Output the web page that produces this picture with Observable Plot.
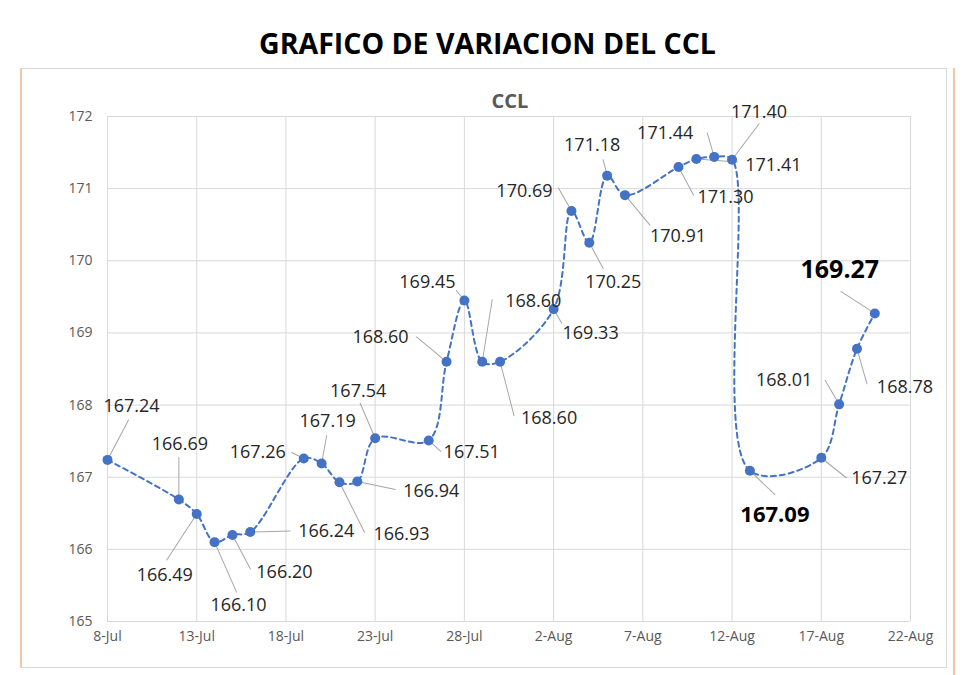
<!DOCTYPE html>
<html><head><meta charset="utf-8">
<script src="https://cdn.jsdelivr.net/npm/d3@7"></script>
<script src="https://cdn.jsdelivr.net/npm/@observablehq/plot@0.6"></script>
<style>
body{margin:0;background:#fff;width:980px;height:675px;position:relative;overflow:hidden;font-family:"Open Sans",sans-serif}
#title{position:absolute;top:24px;left:0;width:975px;text-align:center;font-weight:700;font-size:28.5px;color:#000}
#frame{position:absolute;left:20px;top:68px;width:927px;height:600px;border:1px solid #d9d9d9;border-left:2px solid #f5c6a5;box-sizing:border-box}
#edge{position:absolute;left:953px;top:68px;width:2px;height:607px;background:#f5c6a5}
#sub{position:absolute;top:87px;left:0;width:1020px;text-align:center;font-weight:700;font-size:20px;color:#595959}
#chart{position:absolute;left:0;top:65px}
</style>
</head>
<body>
<div id="frame"></div>
<div id="edge"></div>
<div id="title">GRAFICO DE VARIACION DEL CCL</div>
<div id="sub">CCL</div>
<div id="chart"></div>
<script>
// ---- data ----
const dates = ["2021-07-08","2021-07-12","2021-07-13","2021-07-14","2021-07-15","2021-07-16",
  "2021-07-19","2021-07-20","2021-07-21","2021-07-22","2021-07-23",
  "2021-07-26","2021-07-27","2021-07-28","2021-07-29","2021-07-30",
  "2021-08-02","2021-08-03","2021-08-04","2021-08-05","2021-08-06",
  "2021-08-09","2021-08-10","2021-08-11","2021-08-12","2021-08-13",
  "2021-08-17","2021-08-18","2021-08-19","2021-08-20"];
const values = [167.24,166.69,166.49,166.10,166.20,166.24,
  167.26,167.19,166.93,166.94,167.54,
  167.51,168.60,169.45,168.60,168.60,
  169.33,170.69,170.25,171.18,170.91,
  171.30,171.41,171.44,171.40,167.09,
  167.27,168.01,168.78,169.27];
const highlighted = ["2021-08-13","2021-08-20"];
const xTickDates = ["2021-07-08","2021-07-13","2021-07-18","2021-07-23","2021-07-28",
  "2021-08-02","2021-08-07","2021-08-12","2021-08-17","2021-08-22"];
const yTicks = [165,166,167,168,169,170,171,172];

// ---- label placement (pixel offsets from each point) ----
const labelOffsets = [[24,-54],[1,-55],[-32,61],[24,63],[52,37],[76,-1],
  [-46,-6],[6,-42],[62,52],[74,10],[-17,-47],
  [43,12],[-66,-25],[-37,-18],[51,-61],[49,56],
  [37,24],[-47,-20],[24,39],[-15,-30],[53,41],
  [47,30],[77,6],[-49,-24],[27,-48],[25,44],
  [58,20],[-55,-24],[48,38],[-35,-43]];
const leaderEnds = [[21,-40],[0,-42],[-30,46],[22,50],[18,34],[40,-1],
  [-12,-6],[5,-28],[25,50],[38,8],[-15,-35],
  [12,11],[-30,-25],[-8,-10],[10,-62],[14,54],
  [8,14],[-13,-23],[14,26],[-4,-16],[25,30],
  [15,28],[41,3],[-7,-24],[27,-36],[25,24],
  [25,20],[-14,-24],[10,35],[-34,-22]];
const labelSizes = {"2021-08-13": 22, "2021-08-20": 25};

const data = dates.map((d, i) => ({date: new Date(d), value: values[i], key: d}));
const fmt = d3.format(".2f");
const segment = {draw(ctx, l) { ctx.moveTo(0, 0); ctx.lineTo(0, -l); }};

const leaderMarks = data.map((d, i) => {
  const [lx, ly] = leaderEnds[i];
  return Plot.vector([d], {x: "date", y: "value", anchor: "start",
    length: Math.hypot(lx, ly), rotate: Math.atan2(lx, -ly) * 180 / Math.PI,
    shape: segment, stroke: "#a6a6a6", strokeWidth: 1});
});
const labelMarks = data.map((d, i) => {
  const big = highlighted.includes(d.key);
  return Plot.text([d], {x: "date", y: "value", text: v => fmt(v.value),
    dx: labelOffsets[i][0], dy: labelOffsets[i][1],
    fontSize: big ? labelSizes[d.key] : 18, fontWeight: big ? 700 : 400,
    fill: big ? "#000" : "#262626"});
});

const chart = Plot.plot({
  width: 980, height: 605,
  marginLeft: 107, marginRight: 70, marginTop: 51, marginBottom: 49,
  style: {fontFamily: "Open Sans, sans-serif", fontSize: "14px", color: "#595959", background: "transparent", overflow: "visible"},
  x: {type: "utc", domain: [new Date(xTickDates[0]), new Date(xTickDates[xTickDates.length - 1])],
      ticks: xTickDates.map(d => new Date(d)), tickFormat: d3.utcFormat("%-d-%b"),
      tickSize: 0, tickPadding: 10, label: null},
  y: {domain: [165, 172], ticks: yTicks, tickFormat: d3.format("d"), tickSize: 0, tickPadding: 15, label: null},
  marks: [
    Plot.ruleX(xTickDates.map(d => new Date(d)), {stroke: "#d9d9d9", strokeWidth: 1}),
    Plot.ruleY(yTicks, {stroke: "#d9d9d9", strokeWidth: 1}),
    Plot.line(data, {x: "date", y: "value", stroke: "#4472C4", strokeWidth: 2,
      strokeDasharray: "5,4", curve: "catmull-rom"}),
    ...leaderMarks,
    Plot.dot(data, {x: "date", y: "value", r: 5, fill: "#4472C4", stroke: "none"}),
    ...labelMarks
  ]
});
document.getElementById("chart").appendChild(chart);
</script>
</body></html>
